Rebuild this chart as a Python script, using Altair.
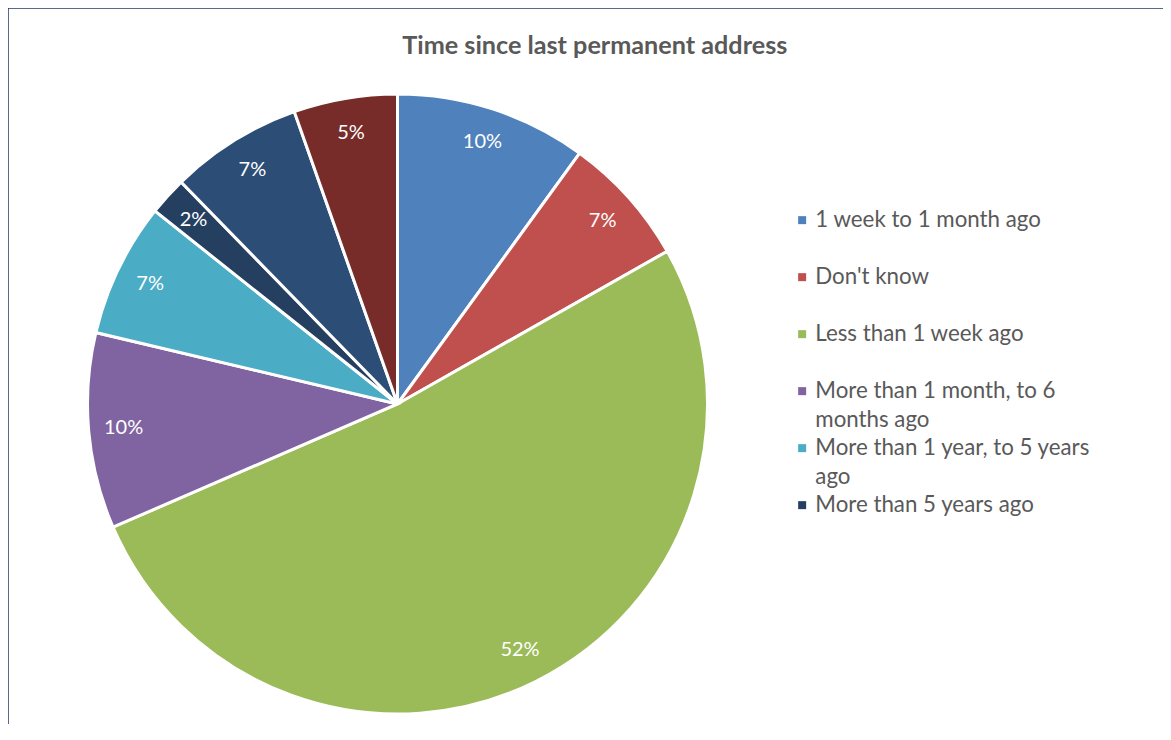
import altair as alt
import pandas as pd

categories = [
    "1 week to 1 month ago",
    "Don't know",
    "Less than 1 week ago",
    "More than 1 month, to 6 months ago",
    "More than 1 year, to 5 years ago",
    "More than 5 years ago",
    "More than 6 months, to 1 year ago",
    "Prefer not to say",
]
values = [10.0, 6.8, 51.7, 10.2, 7.0, 2.0, 6.9, 5.4]
colors = ["#4F81BD", "#C0504D", "#9BBB59", "#8064A2", "#4BACC6",
          "#253F60", "#2C4D75", "#772C2A"]
legend_shown = categories[:6]
wrapped = {
    "More than 1 month, to 6 months ago": ["More than 1 month, to 6", "months ago"],
    "More than 1 year, to 5 years ago": ["More than 1 year, to 5 years", "ago"],
}

df = pd.DataFrame({"category": categories, "value": values, "order": list(range(len(categories)))})
frame_df = pd.DataFrame({"edge": ["frame"]})

label_expr = " : ".join(
    [f"datum.label == '{k}' ? ['{v[0]}', '{v[1]}']" for k, v in wrapped.items()] + ["datum.label"]
)

FONT = "Lato"
VIEW_W, VIEW_H = 1155, 716
cx, cy, R = 389.5, 396, 310
BORDER = "#1F3864"

base = alt.Chart(df).transform_joinaggregate(total="sum(value)").transform_calculate(
    pct="datum.value / datum.total"
).encode(
    theta=alt.Theta("value:Q", stack=True),
    order=alt.Order("order:Q"),
    x=alt.value(cx),
    y=alt.value(cy),
)

pie = base.mark_arc(radius=R, stroke="white", strokeWidth=3).encode(
    color=alt.Color(
        "category:N",
        scale=alt.Scale(domain=categories, range=colors),
        legend=alt.Legend(
            title=None,
            orient="none",
            legendX=783,
            legendY=201,
            values=legend_shown,
            symbolType="square",
            symbolSize=64,
            symbolStrokeWidth=0,
            labelFontSize=22.3,
            labelFont=FONT,
            labelColor="#595959",
            labelOffset=2,
            rowPadding=5,
            gridAlign="all",
            labelLimit=400,
            padding=0,
            labelExpr=label_expr,
        ),
    )
)

labels = base.mark_text(radius=275, fontSize=20, font=FONT, color="white",
                        align="center", baseline="middle").encode(
    text=alt.Text("pct:Q", format=".0%")
)

border_left = alt.Chart(frame_df).mark_rule(color=BORDER, strokeWidth=1.5).encode(
    x=alt.value(0), y=alt.value(0), y2=alt.value(VIEW_H)
)
border_top = alt.Chart(frame_df).mark_rule(color=BORDER, strokeWidth=1.5).encode(
    x=alt.value(0), x2=alt.value(VIEW_W), y=alt.value(0)
)

chart = (pie + labels + border_left + border_top).properties(
    width=VIEW_W,
    height=VIEW_H,
    padding=0,
    autosize=alt.AutoSizeParams(type="none"),
    title=alt.TitleParams(
        "Time since last permanent address",
        font=FONT,
        fontSize=25.2,
        fontWeight="bold",
        color="#595959",
        anchor="start",
        dx=395,
        baseline="bottom",
        offset=0,
        dy=77,
    ),
).configure(
    style={"guide-label": {"lineHeight": 29}}
).configure_view(stroke=None)

chart.save("out.html", embed_options={"renderer": "svg", "actions": False})
